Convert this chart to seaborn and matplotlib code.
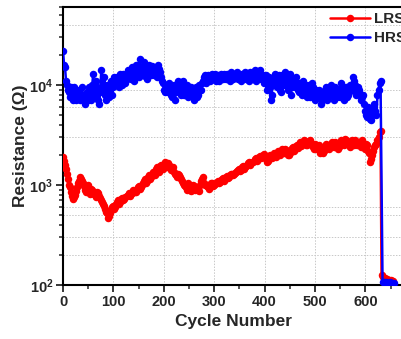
import numpy as np
import pandas as pd
import matplotlib
matplotlib.use("Agg")
import matplotlib.pyplot as plt
import seaborn as sns
from matplotlib.ticker import FixedLocator, LogLocator, FuncFormatter, MultipleLocator, NullFormatter

# ---- data ----
cycles_even = list(range(0, 632, 4))   # 0, 4, ..., 628
cycles_odd = list(range(2, 634, 4))    # 2, 6, ..., 630

lrs_even = [1900, 1600, 1300, 1000, 850, 720, 800, 950, 1100, 1150,
            1050, 900, 950, 880, 920, 850, 800, 860, 780, 700,
            640, 580, 520, 490, 560, 620, 600, 680, 650, 720,
            700, 760, 800, 780, 840, 880, 860, 950, 920, 1000,
            1100, 1050, 1200, 1150, 1250, 1300, 1450, 1400, 1550, 1500,
            1600, 1550, 1650, 1500, 1450, 1350, 1250, 1300, 1200, 1100,
            1000, 950, 1050, 900, 950, 980, 920, 900, 1000, 1150,
            1050, 1000, 950, 1000, 1050, 1000, 1050, 1100, 1080, 1150,
            1100, 1200, 1180, 1250, 1300, 1280, 1350, 1400, 1380, 1500,
            1450, 1550, 1650, 1600, 1700, 1800, 1750, 1900, 1850, 2000,
            1900, 1700, 1850, 1900, 2000, 1950, 2100, 2050, 2200, 2150,
            2300, 2100, 2000, 2200, 2400, 2300, 2500, 2600, 2450, 2700,
            2600, 2500, 2750, 2650, 2400, 2600, 2300, 2500, 2200, 2100,
            2400, 2500, 2300, 2600, 2500, 2700, 2550, 2400, 2800, 2600,
            2900, 2700, 2500, 2750, 2600, 2800, 2500, 2700, 2400, 2600,
            2300, 2500, 2100, 1800, 2200, 2500, 2800, 3400]

lrs_odd = [1750, 1450, 1150, 950, 780, 760, 880, 1050, 1200, 1100,
           980, 850, 1000, 820, 900, 820, 760, 830, 740, 670,
           610, 540, 470, 520, 600, 580, 650, 700, 680, 740,
           720, 780, 830, 810, 900, 850, 920, 980, 960, 1050,
           1150, 1100, 1250, 1200, 1350, 1250, 1500, 1350, 1600, 1450,
           1700, 1500, 1600, 1400, 1500, 1300, 1200, 1250, 1150, 1050,
           980, 900, 1000, 870, 1000, 900, 950, 870, 1100, 1200,
           1000, 980, 920, 1050, 980, 1020, 1080, 1050, 1120, 1180,
           1150, 1230, 1200, 1280, 1250, 1320, 1380, 1450, 1420, 1550,
           1500, 1600, 1700, 1650, 1750, 1850, 1800, 1950, 1900, 2050,
           1800, 1750, 2000, 1850, 2100, 1900, 2200, 2000, 2300, 2100,
           2250, 2000, 2100, 2350, 2200, 2450, 2350, 2700, 2550, 2800,
           2500, 2650, 2850, 2500, 2300, 2500, 2400, 2100, 2300, 2200,
           2600, 2400, 2450, 2700, 2400, 2600, 2300, 2650, 2750, 2500,
           2800, 2600, 2400, 2850, 2500, 2700, 2600, 2500, 2800, 2400,
           2600, 2200, 1700, 2000, 2400, 2600, 3000, 3500]

hrs_even = [22000, 15000, 10000, 8500, 9500, 7000, 8500, 7500, 9000, 8000,
            7500, 6500, 8500, 9500, 7000, 13000, 8000, 9500, 6500, 14000,
            9000, 8000, 10000, 7500, 11000, 9500, 10500, 12000, 9500, 11500,
            13000, 10500, 14000, 12000, 15000, 11000, 16000, 13000, 18000, 14000,
            17000, 12000, 14500, 13000, 15500, 12500, 14000, 16000, 13500, 11000,
            9000, 10000, 8500, 9500, 7500, 10000, 8500, 11000, 9000, 10000,
            8000, 9500, 7500, 9000, 8500, 7000, 9500, 8000, 9000, 10500,
            12000, 10500, 12500, 11000, 13000, 12000, 11000, 12500, 11500, 12000,
            13000, 11500, 12500, 11000, 12000, 13000, 12500, 11500, 12500, 13000,
            12000, 11500, 12500, 13500, 11500, 14000, 12000, 13000, 11500, 12500,
            11000, 9000, 12000, 7000, 10000, 13000, 9500, 12500, 8500, 11500,
            13500, 10000, 12000, 8000, 11000, 9500, 10500, 8500, 9000, 11000,
            8000, 7500, 10000, 8500, 9500, 7000, 8000, 9000, 6500, 7500,
            9000, 7000, 8500, 10000, 8000, 9500, 7500, 8500, 10500, 8000,
            9000, 7500, 8500, 9500, 12000, 10000, 8500, 9000, 7000, 8000,
            5500, 4800, 5500, 4500, 6000, 5500, 8000, 10500]

hrs_odd = [16000, 11000, 9000, 7500, 8000, 9500, 7000, 8000, 7000, 9500,
           8000, 7500, 7000, 8500, 10000, 7500, 11000, 7000, 9000, 8500,
           12000, 7000, 9000, 10000, 8000, 12000, 10000, 11000, 13000, 10000,
           12500, 11500, 13000, 11500, 14000, 12500, 14500, 12000, 15000, 12500,
           14500, 11500, 16000, 12500, 14000, 13000, 12000, 14500, 12000, 10500,
           8500, 9000, 10500, 8000, 9000, 7000, 9500, 10000, 8000, 11000,
           8500, 10000, 8000, 9500, 7500, 8500, 7500, 10000, 9000, 11000,
           12500, 11000, 12000, 12500, 11500, 13000, 12000, 11000, 13000, 11500,
           12500, 13000, 12000, 13500, 11500, 12000, 13500, 12000, 11000, 12500,
           13500, 12000, 11000, 12500, 13000, 11000, 12500, 14000, 12000, 10500,
           12500, 11000, 9500, 8000, 11500, 12000, 10500, 9000, 12500, 10000,
           11500, 9000, 13000, 9500, 10000, 12000, 9000, 10500, 8000, 9500,
           10000, 8500, 7500, 10500, 8000, 9000, 7500, 8500, 7000, 8000,
           9500, 7500, 8000, 9000, 7000, 9000, 8000, 7500, 9500, 7000,
           9500, 8000, 10000, 9000, 11000, 8000, 9500, 8000, 7500, 6500,
           5000, 6000, 4600, 5000, 6500, 5000, 9000, 11000]

lrs_fail_cycles = [632, 634, 638, 642, 646, 650, 654]
lrs_fail = [125, 120, 118, 115, 113, 112, 110]
hrs_fail_cycles = [634, 636, 640, 644, 648, 652, 656]
hrs_fail = [108, 106, 107, 105, 106, 105, 104]

series_names = ["LRS", "HRS"]
series_colors = ["#ff0000", "#0000ff"]

# ---- build table ----
df = pd.concat([
    pd.DataFrame({"Cycle": cycles_even + cycles_odd + lrs_fail_cycles,
                  "R": lrs_even + lrs_odd + lrs_fail, "State": "LRS"}),
    pd.DataFrame({"Cycle": cycles_even + cycles_odd + hrs_fail_cycles,
                  "R": hrs_even + hrs_odd + hrs_fail, "State": "HRS"}),
], ignore_index=True)

sns.set_style("ticks")
plt.rcParams["font.family"] = ["Liberation Sans", "DejaVu Sans"]
plt.rcParams["font.weight"] = "bold"
plt.rcParams["mathtext.fontset"] = "custom"
plt.rcParams["mathtext.bf"] = "Liberation Sans:bold"
plt.rcParams["mathtext.rm"] = "Liberation Sans:bold"

W, H = 401, 339
fig = plt.figure(figsize=(W / 100, H / 100), dpi=100)
ax = fig.add_axes([63 / W, 54 / H, 340 / W, 278 / H])

for name, col in zip(series_names, series_colors):
    sub = df[df["State"] == name]
    sns.lineplot(data=sub, x="Cycle", y="R", ax=ax, color=col, marker="o",
                 markersize=5.4, markeredgewidth=0, linewidth=1.8,
                 estimator=None, sort=True, label=name, zorder=3)

ax.set_yscale("log")
ax.set_xlim(0, 340 / 0.504)
ax.set_ylim(100, 10 ** 4.78)

# grid (dotted, light)
for gx in [100, 200, 300, 400, 500, 600]:
    ax.axvline(gx, color="#c8c8c8", lw=0.7, ls=(0, (1.5, 1.5)), zorder=0)
for gy in [200, 300, 500, 600, 3000, 6000, 9000, 40000]:
    ax.axhline(gy, color="#c8c8c8", lw=0.7, ls=(0, (1.5, 1.5)), zorder=0)

ax.xaxis.set_major_locator(FixedLocator([0, 100, 200, 300, 400, 500, 600]))
ax.xaxis.set_minor_locator(MultipleLocator(50))
ax.yaxis.set_major_locator(FixedLocator([100, 1000, 10000]))
ax.yaxis.set_minor_locator(LogLocator(base=10, subs=np.arange(2, 10)))
ax.yaxis.set_minor_formatter(NullFormatter())
ax.yaxis.set_major_formatter(FuncFormatter(
    lambda v, p: r"$\mathbf{10^{%d}}$" % int(round(np.log10(v)))))

ax.tick_params(axis="both", which="major", direction="out", length=5, width=1.3,
               labelsize=10.5, pad=2)
ax.tick_params(axis="both", which="minor", direction="out", length=3, width=1.1)
for lab in ax.get_xticklabels():
    lab.set_fontweight("bold")

for side in ["left", "bottom", "top", "right"]:
    ax.spines[side].set_linewidth(1.5)
    ax.spines[side].set_color("black")

ax.set_xlabel("Cycle Number", fontsize=12.5, fontweight="bold", labelpad=4)
ax.set_ylabel("Resistance (Ω)", fontsize=12.5, fontweight="bold", labelpad=1)

leg = ax.legend(loc="upper left", bbox_to_anchor=(324 / W, 1 - 6 / H),
                bbox_transform=fig.transFigure, frameon=False,
                prop={"weight": "bold", "size": 11}, handlelength=2.6,
                handletextpad=0.3, labelspacing=0.35, borderaxespad=0)

fig.savefig("out.png", dpi=100)
